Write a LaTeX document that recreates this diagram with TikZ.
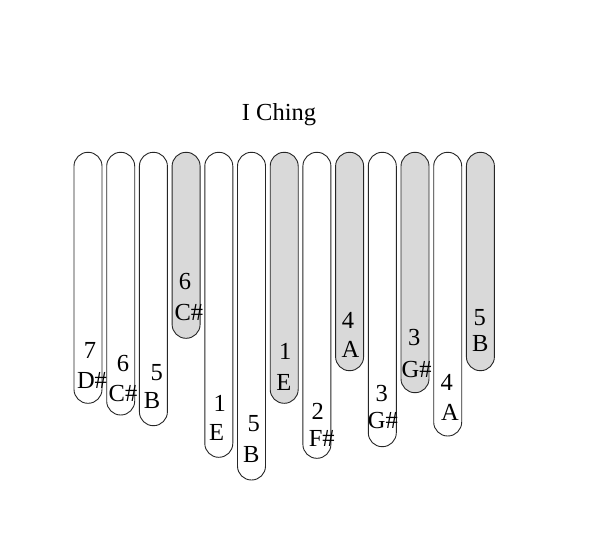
\documentclass[tikz,border=0pt]{standalone}
\usepackage{fontspec}
\setmainfont{Liberation Serif}
\begin{document}
\begin{tikzpicture}[x=1pt,y=-1pt,
  tine/.style={draw=black!85,line width=0.9pt,rounded corners=13.9pt},
  white tine/.style={tine,fill=white},
  gray tine/.style={tine,fill=gray!30},
  lab/.style={anchor=base,inner sep=0pt,font=\fontsize{24.5}{28}\selectfont}]
\useasboundingbox (0,0) rectangle (600,546);
\node[lab] (title) at (279,120.7) {I Ching};
% tines: index / bottom / style
\foreach \i/\b/\s in {0/403.3/white,1/415/white,2/425.7/white,3/338.3/gray,4/457.3/white,5/480/white,6/403.3/gray,7/458.3/white,8/370.7/gray,9/446.7/white,10/392.7/gray,11/436/white,12/370.7/gray}{
  \pgfmathsetmacro{\cx}{88+32.7*\i}
  \draw[\s\space tine] (\cx-14,152.3) rectangle (\cx+14,\b);
}
% labels: name / num x / num baseline / num / note x / note baseline / note
\foreach \n/\ax/\ay/\at/\bx/\by/\bt in {
  a/90/358.3/7/92/388.3/D\#,
  b/123/371/6/123/401/C\#,
  c/156.7/380.7/5/152/408.3/B,
  d/185/289/6/188.8/320/C\#,
  e/219.8/411.7/1/216.7/440/E,
  f/253.8/431.7/5/251.2/462.7/B,
  g/285.3/359.3/1/283.8/390/E,
  h/317.7/419.3/2/321.7/446/F\#,
  i/348/328.3/4/350.5/357.3/A,
  j/381.7/401.7/3/382.8/428.3/G\#,
  k/414.3/345/3/416.7/377.3/G\#,
  l/446.7/390.7/4/450/420/A,
  m/479.7/325.7/5/480.3/351.7/B}{
  \node[lab] (num-\n) at (\ax,\ay) {\at};
  \node[lab] (note-\n) at (\bx,\by) {\bt};
}
\end{tikzpicture}
\end{document}
